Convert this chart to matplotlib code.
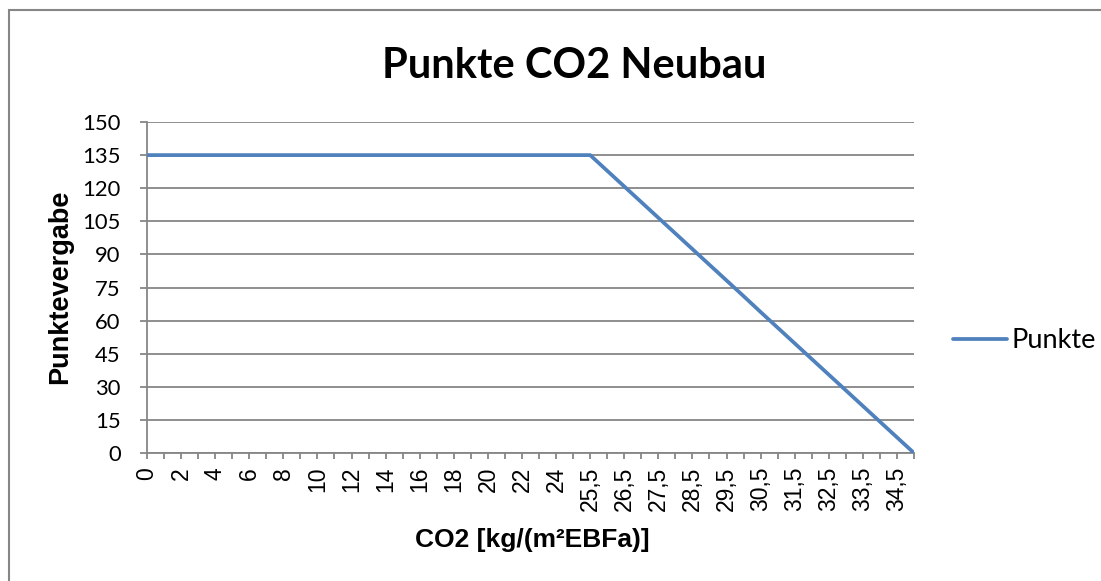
import matplotlib
matplotlib.use('Agg')
import matplotlib.pyplot as plt
from matplotlib.patches import Rectangle

# x categories (Excel line chart -> categorical axis)
categories = ['0', '1', '2', '3', '4', '5', '6', '7', '8', '9', '10', '11', '12',
              '13', '14', '15', '16', '17', '18', '19', '20', '21', '22', '23', '24',
              '25', '25,5', '26', '26,5', '27', '27,5', '28', '28,5', '29', '29,5',
              '30', '30,5', '31', '31,5', '32', '32,5', '33', '33,5', '34', '34,5', '35']

punkte = [135, 135, 135, 135, 135, 135, 135, 135, 135, 135, 135, 135, 135,
          135, 135, 135, 135, 135, 135, 135, 135, 135, 135, 135, 135,
          135, 135, 127.9, 120.8, 113.7, 106.6, 99.5, 92.4, 85.3, 78.2,
          71.1, 63.9, 56.8, 49.7, 42.6, 35.5, 28.4, 21.3, 14.2, 7.1, 0]

y_ticks = [0, 15, 30, 45, 60, 75, 90, 105, 120, 135, 150]

W, H = 1101, 581
GRAY = '#868686'
BLUE = '#4F81BD'

fig = plt.figure(figsize=(W / 100, H / 100), dpi=100)
ax = fig.add_axes([147 / W, 1 - 453 / H, (914 - 147) / W, (453 - 122) / H])

x = list(range(len(categories)))
ax.plot(x, punkte, color=BLUE, lw=2.7, label='Punkte', solid_capstyle='round', zorder=3)

ax.set_xlim(0, len(categories) - 1)
ax.set_ylim(0, 150)

ax.set_yticks(y_ticks)
ax.set_yticklabels([str(v) for v in y_ticks], fontfamily='Lato', fontsize=15.8)
ax.yaxis.grid(True, color=GRAY, lw=1.3)
ax.set_axisbelow(True)

ax.set_xticks(x)
ax.set_xticklabels([c if i % 2 == 0 else '' for i, c in enumerate(categories)],
                   rotation=90, fontfamily='Liberation Sans', fontsize=16.5)

for s in ['top', 'right']:
    ax.spines[s].set_visible(False)
for s in ['left', 'bottom']:
    ax.spines[s].set_color(GRAY)
    ax.spines[s].set_linewidth(1.3)

ax.tick_params(axis='x', direction='out', length=4, width=1.3, color=GRAY, pad=6)
ax.tick_params(axis='y', direction='out', length=5, width=1.3, color=GRAY, pad=14)

fig.text(574 / W, 1 - 66 / H, 'Punkte CO2 Neubau', ha='center', va='center',
         fontfamily='Lato', fontweight='bold', fontsize=30)
fig.text(60 / W, 1 - 287 / H, 'Punktevergabe', ha='center', va='center', rotation=90,
         fontfamily='Liberation Sans', fontweight='bold', fontsize=19.5)
fig.text(532 / W, 1 - 540 / H, 'CO2 [kg/(m²EBFa)]', ha='center', va='center',
         fontfamily='Liberation Sans', fontweight='bold', fontsize=19)

fig.legend(loc='center left', bbox_to_anchor=(953 / W, 1 - 341 / H), frameon=False,
           borderpad=0, borderaxespad=0, handlelength=2.0, handletextpad=0.15,
           prop={'family': 'Lato', 'size': 19.5})

fig.add_artist(Rectangle((9 / W, -0.1), 1.2, 1 - 10 / H + 0.1, transform=fig.transFigure,
                         fill=False, ec=GRAY, lw=1.5))

fig.savefig('out.png', dpi=100)
